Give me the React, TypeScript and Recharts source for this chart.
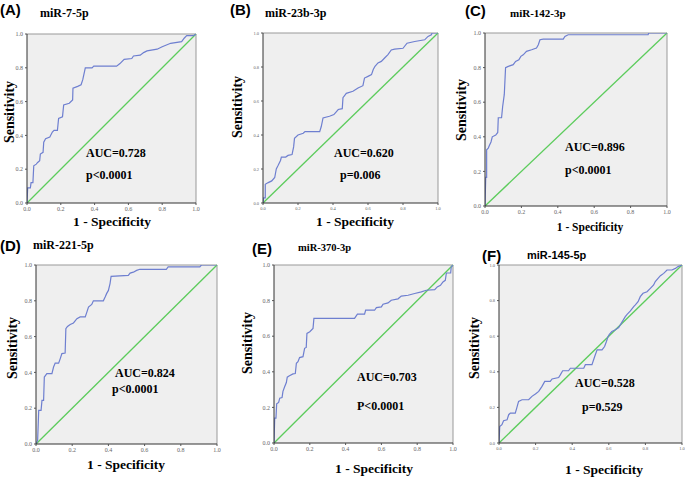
import React from "react";
import { LineChart, Line, XAxis, YAxis, CartesianGrid, ReferenceLine } from "recharts";

const axisTicks = [0, 0.2, 0.4, 0.6, 0.8, 1.0];
const diagonal = [{ x: 0, y: 0 }, { x: 1, y: 1 }];

// Panel A: miR-7-5p
const fprA = [0, 0.004, 0.02, 0.024, 0.035, 0.04, 0.055, 0.063, 0.075, 0.079, 0.095, 0.099, 0.11, 0.135, 0.15, 0.16, 0.18, 0.187, 0.21, 0.217, 0.25, 0.27, 0.272, 0.3, 0.32, 0.33, 0.345, 0.385, 0.395, 0.53, 0.55, 0.575, 0.62, 0.63, 0.67, 0.69, 0.71, 0.77, 0.8, 0.85, 0.915, 0.93, 0.945, 0.985, 1];
const tprA = [0, 0.09, 0.09, 0.12, 0.12, 0.22, 0.23, 0.24, 0.25, 0.29, 0.3, 0.36, 0.38, 0.39, 0.42, 0.43, 0.43, 0.5, 0.51, 0.58, 0.59, 0.61, 0.68, 0.69, 0.7, 0.73, 0.8, 0.8, 0.81, 0.81, 0.825, 0.85, 0.855, 0.87, 0.875, 0.89, 0.9, 0.91, 0.925, 0.945, 0.955, 0.975, 0.99, 0.99, 1];

// Panel B: miR-23b-3p
const fprB = [0, 0.004, 0.013, 0.013, 0.03, 0.05, 0.067, 0.076, 0.086, 0.1, 0.105, 0.13, 0.143, 0.166, 0.175, 0.18, 0.2, 0.23, 0.24, 0.324, 0.333, 0.343, 0.38, 0.405, 0.43, 0.453, 0.457, 0.476, 0.514, 0.543, 0.571, 0.58, 0.6, 0.62, 0.63, 0.64, 0.657, 0.676, 0.695, 0.714, 0.733, 0.752, 0.8, 0.823, 0.867, 0.924, 0.943, 0.962, 0.966, 1];
const tprB = [0, 0.03, 0.03, 0.11, 0.12, 0.13, 0.15, 0.2, 0.22, 0.25, 0.27, 0.27, 0.28, 0.285, 0.33, 0.38, 0.4, 0.41, 0.42, 0.42, 0.45, 0.5, 0.51, 0.52, 0.55, 0.555, 0.62, 0.645, 0.657, 0.676, 0.69, 0.735, 0.745, 0.755, 0.785, 0.804, 0.824, 0.833, 0.853, 0.873, 0.9, 0.905, 0.91, 0.94, 0.95, 0.96, 0.98, 0.99, 1, 1];

// Panel C: miR-142-3p
const fprC = [0, 0.004, 0.009, 0.009, 0.018, 0.024, 0.033, 0.04, 0.059, 0.07, 0.073, 0.091, 0.097, 0.106, 0.113, 0.128, 0.155, 0.168, 0.186, 0.197, 0.21, 0.228, 0.256, 0.283, 0.293, 0.302, 0.32, 0.43, 0.439, 0.457, 0.896, 0.9, 1];
const tprC = [0, 0.165, 0.165, 0.325, 0.335, 0.35, 0.37, 0.4, 0.41, 0.425, 0.51, 0.51, 0.575, 0.645, 0.8, 0.807, 0.817, 0.836, 0.845, 0.865, 0.874, 0.894, 0.903, 0.913, 0.932, 0.961, 0.965, 0.965, 0.98, 0.99, 0.99, 1, 1];

// Panel D: miR-221-5p
const fprD = [0, 0.009, 0.015, 0.028, 0.033, 0.042, 0.046, 0.06, 0.088, 0.097, 0.106, 0.125, 0.134, 0.143, 0.161, 0.165, 0.174, 0.189, 0.207, 0.226, 0.244, 0.272, 0.281, 0.29, 0.308, 0.317, 0.372, 0.382, 0.39, 0.4, 0.409, 0.415, 0.51, 0.52, 0.538, 0.556, 0.574, 0.72, 0.73, 0.905, 0.914, 1];
const tprD = [0, 0.02, 0.188, 0.188, 0.244, 0.244, 0.374, 0.393, 0.393, 0.43, 0.452, 0.452, 0.477, 0.505, 0.508, 0.644, 0.657, 0.668, 0.676, 0.7, 0.71, 0.71, 0.737, 0.765, 0.78, 0.8, 0.8, 0.821, 0.84, 0.858, 0.896, 0.937, 0.942, 0.955, 0.96, 0.97, 0.976, 0.976, 0.989, 0.989, 1, 1];

// Panel E: miR-370-3p
const fprE = [0, 0.004, 0.011, 0.015, 0.026, 0.032, 0.045, 0.05, 0.06, 0.069, 0.074, 0.084, 0.106, 0.119, 0.125, 0.134, 0.143, 0.162, 0.171, 0.18, 0.184, 0.2, 0.218, 0.223, 0.45, 0.466, 0.506, 0.512, 0.562, 0.572, 0.6, 0.609, 0.637, 0.655, 0.693, 0.711, 0.749, 0.786, 0.823, 0.851, 0.898, 0.912, 0.93, 0.944, 0.957, 0.963, 0.987, 0.99, 1];
const tprE = [0, 0.14, 0.14, 0.22, 0.228, 0.252, 0.255, 0.29, 0.317, 0.34, 0.37, 0.377, 0.388, 0.39, 0.448, 0.457, 0.48, 0.485, 0.532, 0.537, 0.616, 0.625, 0.644, 0.7, 0.7, 0.724, 0.724, 0.746, 0.746, 0.761, 0.765, 0.78, 0.787, 0.802, 0.81, 0.825, 0.83, 0.84, 0.849, 0.858, 0.862, 0.877, 0.886, 0.905, 0.914, 0.955, 0.955, 0.989, 1];

// Panel F: miR-145-5p
const fprF = [0, 0.004, 0.016, 0.025, 0.044, 0.053, 0.062, 0.089, 0.098, 0.107, 0.126, 0.162, 0.18, 0.199, 0.217, 0.235, 0.25, 0.28, 0.29, 0.326, 0.335, 0.348, 0.38, 0.39, 0.463, 0.472, 0.508, 0.523, 0.536, 0.563, 0.577, 0.587, 0.596, 0.603, 0.617, 0.636, 0.654, 0.672, 0.69, 0.7, 0.718, 0.736, 0.745, 0.76, 0.772, 0.787, 0.809, 0.827, 0.845, 0.854, 0.869, 0.882, 0.9, 0.918, 0.945, 0.964, 0.978, 1];
const tprF = [0, 0.093, 0.103, 0.125, 0.13, 0.159, 0.168, 0.168, 0.2, 0.234, 0.243, 0.243, 0.262, 0.275, 0.29, 0.318, 0.346, 0.346, 0.36, 0.368, 0.383, 0.406, 0.406, 0.42, 0.42, 0.44, 0.44, 0.486, 0.523, 0.523, 0.542, 0.57, 0.598, 0.611, 0.626, 0.636, 0.649, 0.679, 0.71, 0.723, 0.742, 0.766, 0.776, 0.794, 0.822, 0.841, 0.85, 0.869, 0.888, 0.907, 0.925, 0.94, 0.953, 0.972, 0.972, 0.981, 0.991, 1];

const toData = (fpr: number[], tpr: number[]) => fpr.map((f, i) => ({ fpr: f, tpr: tpr[i] }));

const SERIF = '"Liberation Serif", "Times New Roman", serif';
const SANS = '"Liberation Sans", Arial, sans-serif';

type Txt = { t: string; x: number; y: number; size: number; font?: string; center?: boolean; rotate?: boolean };

type PanelCfg = {
  id: string;
  plot: { x: number; y: number; w: number; h: number };
  fpr: number[];
  tpr: number[];
  tickSize: number;
  texts: Txt[];
};

const panels: PanelCfg[] = [
  {
    id: "A", plot: { x: 27, y: 34, w: 169, h: 169 }, fpr: fprA, tpr: tprA, tickSize: 6,
    texts: [
      { t: "(A)", x: 0, y: 9, size: 15, font: SANS },
      { t: "miR-7-5p", x: 40, y: 13, size: 12 },
      { t: "Sensitivity", x: 10, y: 112, size: 14, center: true, rotate: true },
      { t: "1 - Specificity", x: 112, y: 222, size: 13.5, center: true },
      { t: "AUC=0.728", x: 86, y: 153, size: 12 },
      { t: "p<0.0001", x: 86, y: 175, size: 12 },
    ],
  },
  {
    id: "B", plot: { x: 263, y: 33, w: 175, h: 170 }, fpr: fprB, tpr: tprB, tickSize: 4.5,
    texts: [
      { t: "(B)", x: 230, y: 9, size: 15, font: SANS },
      { t: "miR-23b-3p", x: 265, y: 13, size: 12 },
      { t: "Sensitivity", x: 238, y: 107, size: 14, center: true, rotate: true },
      { t: "1 - Specificity", x: 355, y: 222, size: 13.5, center: true },
      { t: "AUC=0.620", x: 334, y: 153, size: 12 },
      { t: "p=0.006", x: 340, y: 175, size: 12 },
    ],
  },
  {
    id: "C", plot: { x: 485, y: 33, w: 182, h: 173 }, fpr: fprC, tpr: tprC, tickSize: 6,
    texts: [
      { t: "(C)", x: 465, y: 10, size: 15, font: SANS },
      { t: "miR-142-3p", x: 510, y: 13, size: 11 },
      { t: "Sensitivity", x: 462, y: 110, size: 14, center: true, rotate: true },
      { t: "1 - Specificity", x: 590, y: 228, size: 11.5, center: true },
      { t: "AUC=0.896", x: 565, y: 147, size: 12 },
      { t: "p<0.0001", x: 565, y: 170, size: 12 },
    ],
  },
  {
    id: "D", plot: { x: 36, y: 265, w: 181, h: 179 }, fpr: fprD, tpr: tprD, tickSize: 6,
    texts: [
      { t: "(D)", x: 0, y: 245, size: 15, font: SANS },
      { t: "miR-221-5p", x: 33, y: 245, size: 12 },
      { t: "Sensitivity", x: 13, y: 348, size: 14, center: true, rotate: true },
      { t: "1 - Specificity", x: 126, y: 465, size: 13.5, center: true },
      { t: "AUC=0.824", x: 115, y: 373, size: 12 },
      { t: "p<0.0001", x: 112, y: 389, size: 12 },
    ],
  },
  {
    id: "E", plot: { x: 274, y: 265, w: 179, h: 178 }, fpr: fprE, tpr: tprE, tickSize: 6,
    texts: [
      { t: "(E)", x: 252, y: 248, size: 15, font: SANS },
      { t: "miR-370-3p", x: 298, y: 248, size: 10.5 },
      { t: "Sensitivity", x: 248, y: 343, size: 14, center: true, rotate: true },
      { t: "1 - Specificity", x: 374, y: 469, size: 13.5, center: true },
      { t: "AUC=0.703", x: 357, y: 377, size: 12 },
      { t: "P<0.0001", x: 357, y: 406, size: 12 },
    ],
  },
  {
    id: "F", plot: { x: 499, y: 265, w: 183, h: 178 }, fpr: fprF, tpr: tprF, tickSize: 4.5,
    texts: [
      { t: "(F)", x: 482, y: 255, size: 15, font: SANS },
      { t: "miR-145-5p", x: 527, y: 255, size: 11, font: SANS },
      { t: "Sensitivity", x: 475, y: 348, size: 14, center: true, rotate: true },
      { t: "1 - Specificity", x: 604, y: 470, size: 13.5, center: true },
      { t: "AUC=0.528", x: 575, y: 383, size: 12 },
      { t: "p=0.529", x: 582, y: 407, size: 12 },
    ],
  },
];

const Y_AXIS_W = 30;
const X_AXIS_H = 15;
const TOP_M = 5;
const RIGHT_M = 6;

function Panel({ cfg }: { cfg: PanelCfg }) {
  const { plot } = cfg;
  const width = plot.w + Y_AXIS_W + RIGHT_M;
  const height = plot.h + TOP_M + X_AXIS_H;
  const data = toData(cfg.fpr, cfg.tpr);
  const tickStyle = { fontSize: cfg.tickSize, fill: "#666", fontFamily: SERIF };
  return (
    <>
      <div style={{ position: "absolute", left: plot.x - Y_AXIS_W, top: plot.y - TOP_M }}>
        <LineChart id={`roc-${cfg.id}`} width={width} height={height} data={data} margin={{ top: TOP_M, right: RIGHT_M, bottom: 0, left: 0 }}>
          <CartesianGrid horizontal={false} vertical={false} fill="#efefef" />
          <XAxis
            type="number"
            dataKey="fpr"
            domain={[0, 1]}
            ticks={axisTicks}
            tickFormatter={(v: number) => v.toFixed(1)}
            height={X_AXIS_H}
            tickSize={2}
            tick={tickStyle}
            stroke="#333"
            tickLine={{ stroke: "#555" }}
            allowDataOverflow
          />
          <YAxis
            type="number"
            domain={[0, 1]}
            ticks={axisTicks}
            tickFormatter={(v: number) => v.toFixed(1)}
            width={Y_AXIS_W}
            tickSize={2}
            tick={tickStyle}
            stroke="#333"
            tickLine={{ stroke: "#555" }}
            allowDataOverflow
          />
          <ReferenceLine y={1} stroke="#999" strokeWidth={1} />
          <ReferenceLine x={1} stroke="#999" strokeWidth={1} />
          <ReferenceLine segment={diagonal} stroke="#5ccc5c" strokeWidth={1.3} ifOverflow="visible" />
          <Line id={`curve-${cfg.id}`} name="roc" dataKey="tpr" type="linear" stroke="#6e7fd0" strokeWidth={1.2} dot={false} activeDot={false} isAnimationActive={false} />
        </LineChart>
      </div>
      {cfg.texts.map((tx, i) => (
        <div
          key={i}
          style={{
            position: "absolute",
            left: tx.x,
            top: tx.y,
            transform: `${tx.center ? "translate(-50%, -50%)" : "translateY(-50%)"}${tx.rotate ? " rotate(-90deg)" : ""}`,
            fontFamily: tx.font || SERIF,
            fontWeight: "bold",
            fontSize: tx.size,
            whiteSpace: "nowrap",
            lineHeight: 1,
            color: "#000",
          }}
        >
          {tx.t}
        </div>
      ))}
    </>
  );
}

export default function App() {
  return (
    <div style={{ position: "absolute", left: 0, top: 0, width: 685, height: 478, background: "#fff", overflow: "hidden" }}>
      {panels.map((p, i) => (
        <Panel key={i} cfg={p} />
      ))}
    </div>
  );
}
